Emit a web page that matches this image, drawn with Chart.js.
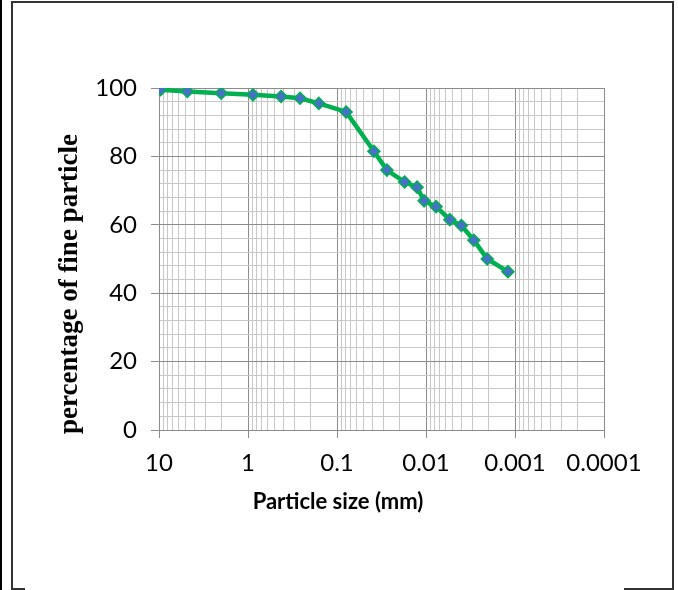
<!DOCTYPE html>
<html>
<head>
<meta charset="utf-8">
<script src="https://cdn.jsdelivr.net/npm/chart.js@4.4.0/dist/chart.umd.min.js"></script>
<style>
  body { margin: 0; background: #fff; }
  #wrap { position: relative; width: 678px; height: 590px; overflow: hidden; }
  #chart { position: absolute; left: 0; top: 0; }
  .ln { position: absolute; background: #333; }
</style>
</head>
<body>
<div id="wrap">
  <!-- page frame -->
  <div class="ln" style="left:0;top:0;width:2px;height:590px;background:#000"></div>
  <div class="ln" style="left:11px;top:1px;width:2px;height:589px"></div>
  <div class="ln" style="left:11px;top:1px;width:663px;height:2px"></div>
  <div class="ln" style="left:672px;top:1px;width:2px;height:589px"></div>
  <div class="ln" style="left:11px;top:588px;width:14px;height:2px"></div>
  <div class="ln" style="left:624px;top:588px;width:50px;height:2px"></div>
  <canvas id="chart" width="678" height="590"></canvas>
</div>
<script>
// particle size (mm) and percentage finer
const particleSize = [9.6, 4.8, 2.0, 0.88, 0.425, 0.26, 0.16, 0.079, 0.0385, 0.0275, 0.0174, 0.0126, 0.0105, 0.0077, 0.0054, 0.004, 0.0029, 0.00205, 0.0012];
const percentFine = [99.5, 99, 98.5, 98, 97.5, 97, 95.5, 93, 81.5, 76, 72.5, 71, 67, 65.3, 61.5, 59.8, 55.5, 50, 46.3];
const xTicks = [10, 1, 0.1, 0.01, 0.001, 0.0001];
const yTicks = [0, 20, 40, 60, 80, 100];

const points = particleSize.map((s, i) => ({ x: s, y: percentFine[i] }));

function isDecade(v) {
  const l = Math.log10(v);
  return Math.abs(l - Math.round(l)) < 1e-6;
}

// axis titles drawn on the canvas
const titles = {
  id: 'titles',
  afterDraw(chart) {
    const ctx = chart.ctx;
    ctx.save();
    ctx.fillStyle = '#000';
    ctx.textAlign = 'center';
    ctx.textBaseline = 'middle';
    ctx.font = 'bold 22px Lato';
    ctx.fillText('Particle size (mm)', 338, 502);
    ctx.translate(70, 284);
    ctx.rotate(-Math.PI / 2);
    ctx.font = 'bold 27px "Liberation Serif"';
    ctx.fillText('percentage of fine particle', 0, 0);
    ctx.restore();
  }
};

new Chart(document.getElementById('chart'), {
  type: 'line',
  data: {
    datasets: [{
      data: points,
      borderColor: '#00B050',
      borderWidth: 4.5,
      tension: 0,
      pointStyle: 'rectRot',
      pointRadius: 6,
      pointBackgroundColor: '#4472C4',
      pointBorderColor: '#00B050',
      pointBorderWidth: 1.5
    }]
  },
  options: {
    responsive: false,
    animation: false,
    layout: { padding: { left: 0, right: 74, top: 88, bottom: 0 } },
    plugins: { legend: { display: false }, tooltip: { enabled: false } },
    scales: {
      x: {
        type: 'logarithmic',
        reverse: true,
        min: 0.0001,
        max: 10,
        afterFit(scale) { scale.height = 160; },
        afterBuildTicks(scale) {
          const t = [];
          for (let e = -4; e <= 1; e++) {
            for (let m = 1; m <= 9; m++) {
              const v = m * Math.pow(10, e);
              if (v > 10.0001) break;
              t.push({ value: parseFloat(v.toPrecision(3)) });
            }
          }
          scale.ticks = t;
        },
        grid: {
          color: c => isDecade(c.tick.value) ? '#8c8c8c' : '#c8c8c8',
          tickColor: c => isDecade(c.tick.value) ? '#8c8c8c' : 'rgba(0,0,0,0)',
          tickLength: 8
        },
        border: { color: '#8c8c8c' },
        ticks: {
          autoSkip: false,
          maxRotation: 0,
          padding: 11,
          color: '#000',
          font: { family: 'Lato', size: 24 },
          callback: v => xTicks.includes(v) ? String(v) : ''
        }
      },
      y: {
        min: 0,
        max: 100,
        afterFit(scale) { scale.width = 159; },
        grid: {
          color: c => c.tick.value % 20 === 0 ? '#8c8c8c' : '#c8c8c8',
          tickColor: c => c.tick.value % 20 === 0 ? '#8c8c8c' : 'rgba(0,0,0,0)',
          tickLength: 8
        },
        border: { color: '#8c8c8c' },
        ticks: {
          stepSize: 4,
          autoSkip: false,
          padding: 14,
          color: '#000',
          font: { family: 'Lato', size: 24 },
          callback: v => yTicks.includes(v) ? String(v) : ''
        }
      }
    }
  },
  plugins: [titles]
});
</script>
</body>
</html>
